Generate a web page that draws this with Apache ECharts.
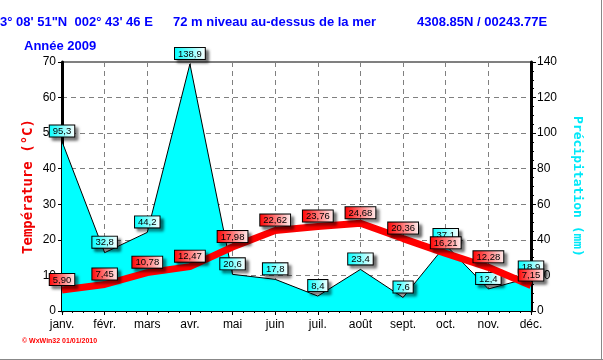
<!DOCTYPE html>
<html>
<head>
<meta charset="utf-8">
<script src="https://cdn.jsdelivr.net/npm/echarts@6/dist/echarts.min.js"></script>
<style>
html,body{margin:0;padding:0;background:#fff;}
#chart{width:603px;height:360px;}
</style>
</head>
<body>
<div id="chart"></div>
<script>
var months = ['janv.', 'févr.', 'mars', 'avr.', 'mai', 'juin', 'juil.', 'août', 'sept.', 'oct.', 'nov.', 'déc.'];
var temperature = [5.90, 7.45, 10.78, 12.47, 17.98, 22.62, 23.76, 24.68, 20.36, 16.21, 12.28, 7.15];
var precipitation = [95.3, 32.8, 44.2, 138.9, 20.6, 17.8, 8.4, 23.4, 7.6, 37.1, 12.4, 18.9];
var titleParts = ['3° 08\' 51"N  002° 43\' 46 E', '72 m niveau au-dessus de la mer', '4308.85N / 00243.77E'];
var yearLabel = 'Année 2009';
var footer = '© WxWin32 01/01/2010';

var chart = echarts.init(document.getElementById('chart'), null, {renderer: 'canvas'});

function grad(c1, c2) {
  return {type: 'linear', x: 0, y: 0, x2: 1, y2: 0, colorStops: [{offset: 0, color: c1}, {offset: 1, color: c2}]};
}
var labelBase = {
  show: true, position: 'top', distance: 5, color: '#000', fontSize: 9.5,
  fontFamily: '"Liberation Sans", Arial, sans-serif',
  borderColor: '#000', borderWidth: 1, padding: [1, 3, 0, 3],
  shadowColor: 'rgba(0,0,0,0.55)', shadowBlur: 3, shadowOffsetX: 3, shadowOffsetY: 3
};
var titleFont = 'bold 13px "Liberation Sans Narrow", "Liberation Sans", Arial, sans-serif';

chart.setOption({
  animation: false,
  backgroundColor: '#fff',
  grid: {left: 62, right: 72, top: 62, bottom: 49, show: true, borderColor: '#000', borderWidth: 1, backgroundColor: 'transparent'},
  graphic: [
    {type: 'text', left: 0, top: 16, style: {text: titleParts[0], font: titleFont, fill: '#0000ff'}},
    {type: 'text', left: 173, top: 16, style: {text: titleParts[1], font: titleFont, fill: '#0000ff'}},
    {type: 'text', left: 417, top: 16, style: {text: titleParts[2], font: titleFont, fill: '#0000ff'}},
    {type: 'text', left: 24, top: 40, style: {text: yearLabel, font: titleFont, fill: '#0000ff'}},
    {type: 'text', left: 22, top: 338, style: {text: footer, font: 'bold 7px "Liberation Sans", Arial, sans-serif', fill: '#ff0000'}},
    {type: 'line', shape: {x1: 0, y1: 359.5, x2: 603, y2: 359.5}, style: {stroke: '#888', lineWidth: 1}},
    {type: 'line', shape: {x1: 601.5, y1: 0, x2: 601.5, y2: 360}, style: {stroke: '#888', lineWidth: 1}}
  ],
  xAxis: [{
    type: 'category', data: months, boundaryGap: false,
    axisLine: {lineStyle: {color: '#000', width: 2}},
    axisTick: {show: true, length: 4, lineStyle: {color: '#000'}},
    axisLabel: {color: '#000', fontSize: 12, margin: 8, fontFamily: '"Liberation Sans", Arial, sans-serif'},
    splitLine: {show: true, lineStyle: {color: '#808080', type: [5, 4], width: 1}}
  }, {
    type: 'value', min: 0, max: 11, interval: 1, position: 'bottom',
    axisLine: {show: false}, axisLabel: {show: false}, splitLine: {show: false},
    axisTick: {show: true, length: 4, lineStyle: {color: '#000'}},
    minorTick: {show: true, splitNumber: 4, length: 2, lineStyle: {color: '#000'}}
  }],
  yAxis: [{
    type: 'value', min: 0, max: 70, interval: 10, position: 'left',
    name: 'Température (°C)', nameLocation: 'middle', nameGap: 27, nameMoveOverlap: false,
    nameTextStyle: {color: '#f00000', fontSize: 14, fontWeight: 'bold', fontFamily: '"DejaVu Sans Mono", monospace'},
    axisLine: {show: true, lineStyle: {color: '#000', width: 3}},
    axisTick: {show: true, length: 4, lineStyle: {color: '#000'}},
    axisLabel: {color: '#000', fontSize: 12, margin: 6, fontFamily: '"Liberation Sans", Arial, sans-serif'},
    splitLine: {show: true, lineStyle: {color: '#808080', type: [5, 4], width: 1}}
  }, {
    type: 'value', min: 0, max: 140, interval: 20, position: 'right',
    name: 'Précipitation (mm)', nameLocation: 'middle', nameGap: 40, nameRotate: -90, nameMoveOverlap: false,
    nameTextStyle: {color: '#00e8f8', fontSize: 13, fontWeight: 'bold', fontFamily: '"DejaVu Sans Mono", monospace'},
    axisLine: {show: true, lineStyle: {color: '#000', width: 3}},
    axisTick: {show: true, length: 5, lineStyle: {color: '#000'}},
    minorTick: {show: true, splitNumber: 4, length: 3, lineStyle: {color: '#000'}},
    axisLabel: {color: '#000', fontSize: 12, margin: 6, fontFamily: '"Liberation Sans", Arial, sans-serif'},
    splitLine: {show: false}
  }],
  series: [{
    name: 'Précipitation', type: 'line', yAxisIndex: 1, data: precipitation,
    symbol: 'circle', symbolSize: 0, showSymbol: true, z: 1,
    itemStyle: {color: '#000'},
    lineStyle: {color: '#000', width: 1},
    areaStyle: {color: '#00ffff', opacity: 1},
    label: Object.assign({}, labelBase, {
      backgroundColor: grad('#00ffff', '#ffffff'),
      formatter: function (p) { return p.value.toFixed(1).replace('.', ','); }
    })
  }, {
    name: 'Température', type: 'line', yAxisIndex: 0, data: temperature,
    symbol: 'circle', symbolSize: 0, showSymbol: true, z: 3,
    itemStyle: {color: '#ff0000'},
    lineStyle: {color: '#ff0000', width: 7},
    label: Object.assign({}, labelBase, {
      backgroundColor: grad('#ff0000', '#fff0f0'),
      formatter: function (p) { return p.value.toFixed(2).replace('.', ','); }
    })
  }]
});
</script>
</body>
</html>
